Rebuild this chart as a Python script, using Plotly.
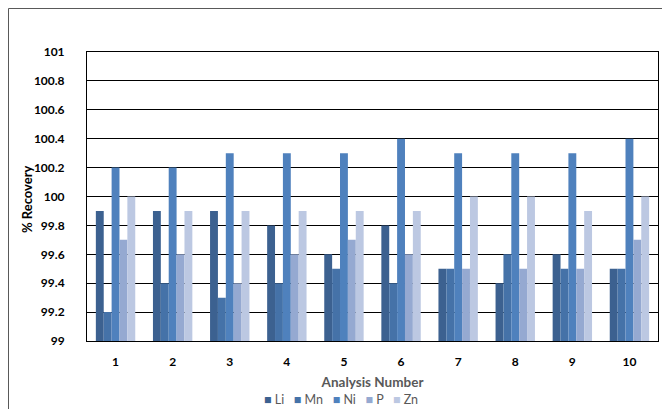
import plotly.graph_objects as go

categories = ["1", "2", "3", "4", "5", "6", "7", "8", "9", "10"]
li = [99.9, 99.9, 99.9, 99.8, 99.6, 99.8, 99.5, 99.4, 99.6, 99.5]
mn = [99.2, 99.4, 99.3, 99.4, 99.5, 99.4, 99.5, 99.6, 99.5, 99.5]
ni = [100.2, 100.2, 100.3, 100.3, 100.3, 100.4, 100.3, 100.3, 100.3, 100.4]
p = [99.7, 99.6, 99.4, 99.6, 99.7, 99.6, 99.5, 99.5, 99.5, 99.7]
zn = [100.0, 99.9, 99.9, 99.9, 99.9, 99.9, 100.0, 100.0, 99.9, 100.0]
series_names = ["Li", "Mn", "Ni", "P", "Zn"]
colors = ["#3C6190", "#4572A8", "#4F81BD", "#95A9D1", "#BCC8E2"]
ytickvals = [99, 99.2, 99.4, 99.6, 99.8, 100, 100.2, 100.4, 100.6, 100.8, 101]
yticktext = ["99", "99.2", "99.4", "99.6", "99.8", "100", "100.2", "100.4", "100.6", "100.8", "101"]

FONT = "Lato, 'Open Sans', sans-serif"

fig = go.Figure()
for name, vals, col in zip(series_names, [li, mn, ni, p, zn], colors):
    fig.add_trace(go.Bar(x=categories, y=vals, name=name, marker=dict(color=col, line=dict(width=0)),
                         showlegend=False))

legend_text = "   ".join(
    f'<span style="color:{c}">■</span> {n}' for n, c in zip(series_names, colors)
)

# page has an 8px body margin; figure coordinates = page - 8
OFF = 8
W, H = 670 - OFF, 409 - OFF
ml, mr, mt, mb = 87 - OFF, 12, 52 - OFF, 68
pw = W - ml - mr
ph = H - mt - mb

def px_x(x):
    return (x - OFF - ml) / pw

def px_y(y):
    return (H - mb - (y - OFF)) / ph

fig.update_layout(
    width=W, height=H,
    margin=dict(l=ml, r=mr, t=mt, b=mb, autoexpand=False),
    paper_bgcolor="white", plot_bgcolor="white",
    barmode="group", bargap=0.31, bargroupgap=0,
    font=dict(family=FONT, color="#000000"),
    xaxis=dict(
        type="category", showgrid=False, showline=True, linecolor="black", linewidth=1,
        mirror=True, ticks="", automargin=False, ticklabelstandoff=10,
        tickfont=dict(size=12, color="#000000", family=FONT, weight="bold"),
        title=dict(text="<b>Analysis Number</b>", font=dict(size=13.5, color="#595959", family=FONT), standoff=9),
    ),
    yaxis=dict(
        range=[99, 101], tickvals=ytickvals, ticktext=yticktext,
        showgrid=True, gridcolor="black", gridwidth=1, automargin=False,
        showline=True, linecolor="black", linewidth=1, mirror=True, ticks="",
        ticklabelstandoff=19,
        tickfont=dict(size=12, color="#000000", family=FONT, weight="bold"),
        zeroline=False,
    ),
    annotations=[
        dict(
            xref="paper", yref="paper", x=px_x(341), y=px_y(399), xanchor="center", yanchor="middle",
            text=legend_text, showarrow=False, font=dict(size=12.5, color="#595959", family=FONT),
        ),
        dict(
            xref="paper", yref="paper", x=px_x(27), y=px_y(199), xanchor="center", yanchor="middle",
            text="<b>% Recovery</b>", textangle=-90, showarrow=False,
            font=dict(size=13, color="#000000", family=FONT),
        ),
    ],
    shapes=[dict(
        type="rect", xref="paper", yref="paper",
        x0=px_x(8.5), x1=px_x(720), y0=px_y(430), y1=px_y(8.5),
        line=dict(color="#595959", width=1), layer="below",
    )],
)

fig.write_html("out.html")
